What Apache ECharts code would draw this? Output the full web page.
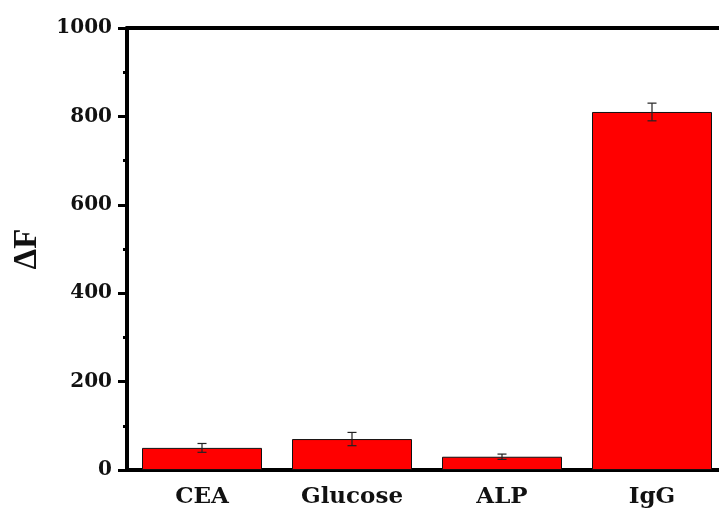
<!DOCTYPE html>
<html>
<head>
<meta charset="utf-8">
<script src="https://cdn.jsdelivr.net/npm/echarts@6/dist/echarts.min.js"></script>
<style>
  html, body { margin: 0; padding: 0; background: #fff; }
  #chart { width: 719px; height: 514px; }
</style>
</head>
<body>
<div id="chart"></div>
<script>
// Fluorescence response (ΔF) for each analyte, with standard deviation
const categories = ['CEA', 'Glucose', 'ALP', 'IgG'];
const deltaF = [50, 70, 30, 810];
const errors = [10, 15, 6, 20];
const yTicks = [0, 200, 400, 600, 800, 1000];

const chart = echarts.init(document.getElementById('chart'), null, { renderer: 'canvas' });

const labelFont = 'DejaVu Serif';

chart.setOption({
  animation: false,
  backgroundColor: '#fff',
  grid: { left: 127, top: 28, width: 600, height: 442, containLabel: false, outerBoundsMode: 'none' },
  xAxis: [
    {
      type: 'category',
      data: categories,
      position: 'bottom',
      axisLine: { show: true, lineStyle: { color: '#000', width: 4 } },
      axisTick: { show: false },
      axisLabel: {
        margin: 16,
        color: '#111',
        fontFamily: labelFont,
        fontWeight: 'bold',
        fontSize: 23
      }
    },
    {
      type: 'category',
      data: categories,
      position: 'top',
      axisLine: { show: true, lineStyle: { color: '#000', width: 4 } },
      axisTick: { show: false },
      axisLabel: { show: false }
    }
  ],
  yAxis: {
    type: 'value',
    min: yTicks[0],
    max: yTicks[yTicks.length - 1],
    interval: 200,
    name: 'ΔF',
    nameLocation: 'middle',
    nameGap: 83,
    nameRotate: 90,
    nameMoveOverlap: false,
    nameTextStyle: {
      color: '#111',
      fontFamily: 'Liberation Serif',
      fontWeight: 'bold',
      fontSize: 33
    },
    axisLine: { show: true, lineStyle: { color: '#000', width: 4 } },
    axisTick: { show: true, length: 9, lineStyle: { color: '#000', width: 3 } },
    minorTick: { show: true, splitNumber: 2, length: 4, lineStyle: { color: '#000', width: 3 } },
    splitLine: { show: false },
    axisLabel: {
      margin: 15,
      color: '#111',
      fontFamily: labelFont,
      fontWeight: 'bold',
      fontSize: 20,
      formatter: function (v) { return String(v); }
    }
  },
  series: [
    {
      type: 'bar',
      data: deltaF,
      barCategoryGap: '20%',
      itemStyle: { color: '#ff0000', borderColor: '#111', borderWidth: 1 }
    },
    {
      type: 'custom',
      data: deltaF.map((v, i) => [i, v - errors[i], v + errors[i]]),
      z: 10,
      renderItem: function (params, api) {
        const x = api.value(0);
        const lo = api.coord([x, api.value(1)]);
        const hi = api.coord([x, api.value(2)]);
        const cap = 4.5;
        const style = { stroke: '#222', lineWidth: 1.2 };
        return {
          type: 'group',
          children: [
            { type: 'line', shape: { x1: lo[0], y1: lo[1], x2: hi[0], y2: hi[1] }, style: style },
            { type: 'line', shape: { x1: lo[0] - cap, y1: lo[1], x2: lo[0] + cap, y2: lo[1] }, style: style },
            { type: 'line', shape: { x1: hi[0] - cap, y1: hi[1], x2: hi[0] + cap, y2: hi[1] }, style: style }
          ]
        };
      }
    }
  ]
});
</script>
</body>
</html>
